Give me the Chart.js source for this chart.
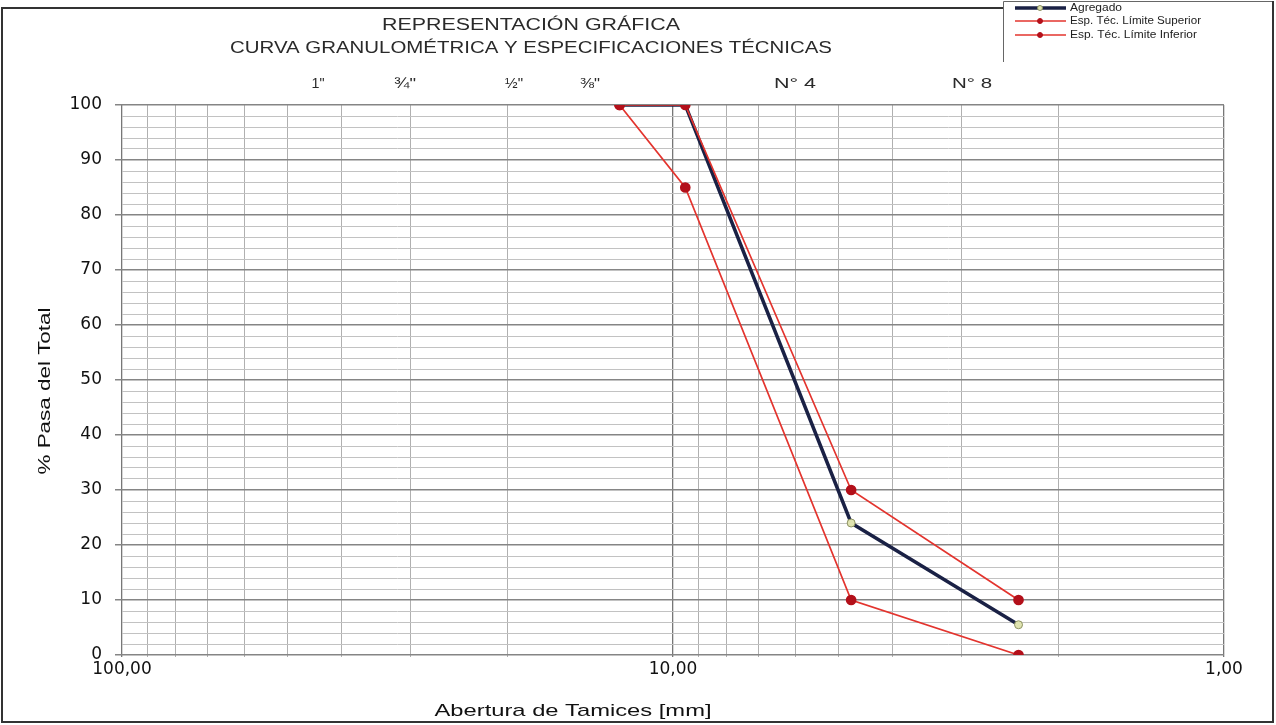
<!DOCTYPE html>
<html>
<head>
<meta charset="utf-8">
<script src="https://cdn.jsdelivr.net/npm/chart.js@4/dist/chart.umd.min.js"></script>
<style>
    html, body { margin: 0; padding: 0; background: #fff; }
    #wrap { width: 1276px; height: 725px; }
</style>
</head>
<body>
<div id="wrap"><canvas id="curve"></canvas></div>
<script>
// sieve openings (mm) and % passing
const aperture = [12.5, 9.5, 4.75, 2.36];
const agregado = [100, 100, 24, 5.5];
const limSuperior = [100, 100, 30, 10];
const limInferior = [100, 85, 10, 0];

const seriesNames = ['Agregado', 'Esp. Téc. Límite Superior', 'Esp. Téc. Límite Inferior'];
const titleLines = ['REPRESENTACIÓN GRÁFICA', 'CURVA GRANULOMÉTRICA Y ESPECIFICACIONES TÉCNICAS'];
const sieveLabels = ['1"', '¾"', '½"', '⅜"', 'N° 4', 'N° 8'];
const xTitle = 'Abertura de Tamices [mm]';
const yTitle = '% Pasa del Total';

// log grid lines of the x axis, labels only on decades
const xTicks = [1, 2, 3, 4, 5, 6, 7, 8, 9, 10, 20, 30, 40, 50, 60, 70, 80, 90, 100];
const xDecades = [1, 10, 100];

const red = '#e3342e';
const darkRed = '#b3101a';
const navy = '#1a2145';

function toPoints(values) {
    return aperture.map((a, i) => ({ x: a, y: values[i] }));
}

// draws text stretched to a given width (the scan is wide)
function fitText(ctx, text, cx, cy, width, font, color, angle) {
    ctx.save();
    ctx.font = font;
    ctx.fillStyle = color;
    ctx.textAlign = 'center';
    ctx.textBaseline = 'middle';
    const w = ctx.measureText(text).width;
    ctx.translate(cx, cy);
    if (angle) ctx.rotate(angle);
    ctx.scale(width / w, 1);
    ctx.fillText(text, 0, 0);
    ctx.restore();
}

const decorations = {
    id: 'decorations',
    afterDraw(chart) {
        const ctx = chart.ctx;

        // outer frame, the legend box sits over its top right corner
        ctx.save();
        ctx.strokeStyle = '#333';
        ctx.lineWidth = 2;
        ctx.beginPath();
        ctx.moveTo(1003, 8);
        ctx.lineTo(2, 8);
        ctx.lineTo(2, 722);
        ctx.lineTo(1273, 722);
        ctx.lineTo(1273, 1);
        ctx.stroke();
        ctx.lineWidth = 1;
        ctx.strokeStyle = '#666';
        ctx.beginPath();
        ctx.moveTo(1003.5, 1.5);
        ctx.lineTo(1003.5, 62);
        ctx.moveTo(1003.5, 1.5);
        ctx.lineTo(1272, 1.5);
        ctx.stroke();
        ctx.restore();

        // titles
        const tf = '16px "Liberation Sans", Arial, sans-serif';
        fitText(ctx, titleLines[0], 531, 26, 298, tf, '#2a2a2a');
        fitText(ctx, titleLines[1], 531, 49, 602, tf, '#2a2a2a');

        // sieve names over the plot
        const sx = [318, 405, 514, 590, 795, 972];
        const sw = [13, 22, 18, 20, 42, 40];
        sieveLabels.forEach((t, i) => {
            fitText(ctx, t, sx[i], 84, sw[i], '14px "Liberation Sans", Arial, sans-serif', '#2a2a2a');
        });

        // axis titles
        fitText(ctx, xTitle, 573, 711, 277, '17px "Liberation Sans", Arial, sans-serif', '#111');
        fitText(ctx, yTitle, 45, 391, 167, '17px "Liberation Sans", Arial, sans-serif', '#111', -Math.PI / 2);

        // legend entries
        const items = [
            { color: navy, width: 3.5, fill: '#dfe3b0', stroke: '#8c9160', y: 8 },
            { color: red, width: 1.5, fill: darkRed, stroke: darkRed, y: 21 },
            { color: red, width: 1.5, fill: darkRed, stroke: darkRed, y: 35 }
        ];
        const tw = [52, 131, 127];
        items.forEach((it, i) => {
            ctx.save();
            ctx.strokeStyle = it.color;
            ctx.lineWidth = it.width;
            ctx.beginPath();
            ctx.moveTo(1015, it.y);
            ctx.lineTo(1066, it.y);
            ctx.stroke();
            ctx.fillStyle = it.fill;
            ctx.strokeStyle = it.stroke;
            ctx.lineWidth = 1;
            ctx.beginPath();
            ctx.arc(1040, it.y, 2.5, 0, Math.PI * 2);
            ctx.fill();
            ctx.stroke();
            ctx.restore();
            ctx.save();
            ctx.font = '10px "Liberation Sans", Arial, sans-serif';
            ctx.fillStyle = '#222';
            ctx.textBaseline = 'middle';
            const w = ctx.measureText(seriesNames[i]).width;
            ctx.translate(1070, it.y);
            ctx.scale(tw[i] / w, 1);
            ctx.fillText(seriesNames[i], 0, 0);
            ctx.restore();
        });
    }
};

const ctx = document.getElementById('curve').getContext('2d');

const chart = new Chart(ctx, {
    type: 'line',
    data: {
        datasets: [
            {
                label: seriesNames[0],
                data: toPoints(agregado),
                borderColor: navy,
                borderWidth: 3.5,
                pointBackgroundColor: '#dfe3b0',
                pointBorderColor: '#8c9160',
                pointBorderWidth: 1,
                pointRadius: 4,
                tension: 0,
                order: 2
            },
            {
                label: seriesNames[1],
                data: toPoints(limSuperior),
                borderColor: red,
                borderWidth: 1.7,
                pointBackgroundColor: darkRed,
                pointBorderColor: darkRed,
                pointRadius: 4.5,
                tension: 0,
                order: 1
            },
            {
                label: seriesNames[2],
                data: toPoints(limInferior),
                borderColor: red,
                borderWidth: 1.7,
                pointBackgroundColor: darkRed,
                pointBorderColor: darkRed,
                pointRadius: 4.5,
                tension: 0,
                order: 1
            }
        ]
    },
    options: {
        responsive: true,
        maintainAspectRatio: false,
        animation: false,
        layout: {
            padding: { left: 0, right: 52, top: 105, bottom: 0 }
        },
        plugins: {
            legend: { display: false },
            title: { display: false },
            tooltip: { enabled: false }
        },
        scales: {
            x: {
                type: 'logarithmic',
                reverse: true,
                min: 1,
                max: 100,
                afterBuildTicks: scale => {
                    scale.ticks = xTicks.map(v => ({ value: v }));
                },
                afterFit: scale => {
                    scale.height = 70;
                },
                ticks: {
                    autoSkip: false,
                    maxRotation: 0,
                    padding: 2,
                    color: '#111',
                    font: { family: '"DejaVu Sans", sans-serif', size: 17 },
                    callback: value => xDecades.includes(value) ? value.toFixed(2).replace('.', ',') : ''
                },
                grid: {
                    color: c => xDecades.includes(c.tick && c.tick.value) ? '#777' : '#b0b0b0',
                    lineWidth: c => xDecades.includes(c.tick && c.tick.value) ? 1.3 : 1,
                    tickLength: 2
                },
                border: { display: false }
            },
            y: {
                min: 0,
                max: 100,
                afterFit: scale => {
                    scale.width = 122;
                },
                ticks: {
                    stepSize: 2,
                    autoSkip: false,
                    padding: 13,
                    color: '#111',
                    font: { family: '"DejaVu Sans", sans-serif', size: 17 },
                    callback: value => value % 10 === 0 ? value : ''
                },
                grid: {
                    color: c => (c.tick && c.tick.value % 10 === 0) ? '#858585' : '#c2c2c2',
                    lineWidth: c => (c.tick && c.tick.value % 10 === 0) ? 1.5 : 1,
                    tickLength: 7,
                    tickColor: c => (c.tick && c.tick.value % 10 === 0) ? '#858585' : 'rgba(0,0,0,0)'
                },
                border: { display: false }
            }
        }
    },
    plugins: [decorations]
});
</script>
</body>
</html>
